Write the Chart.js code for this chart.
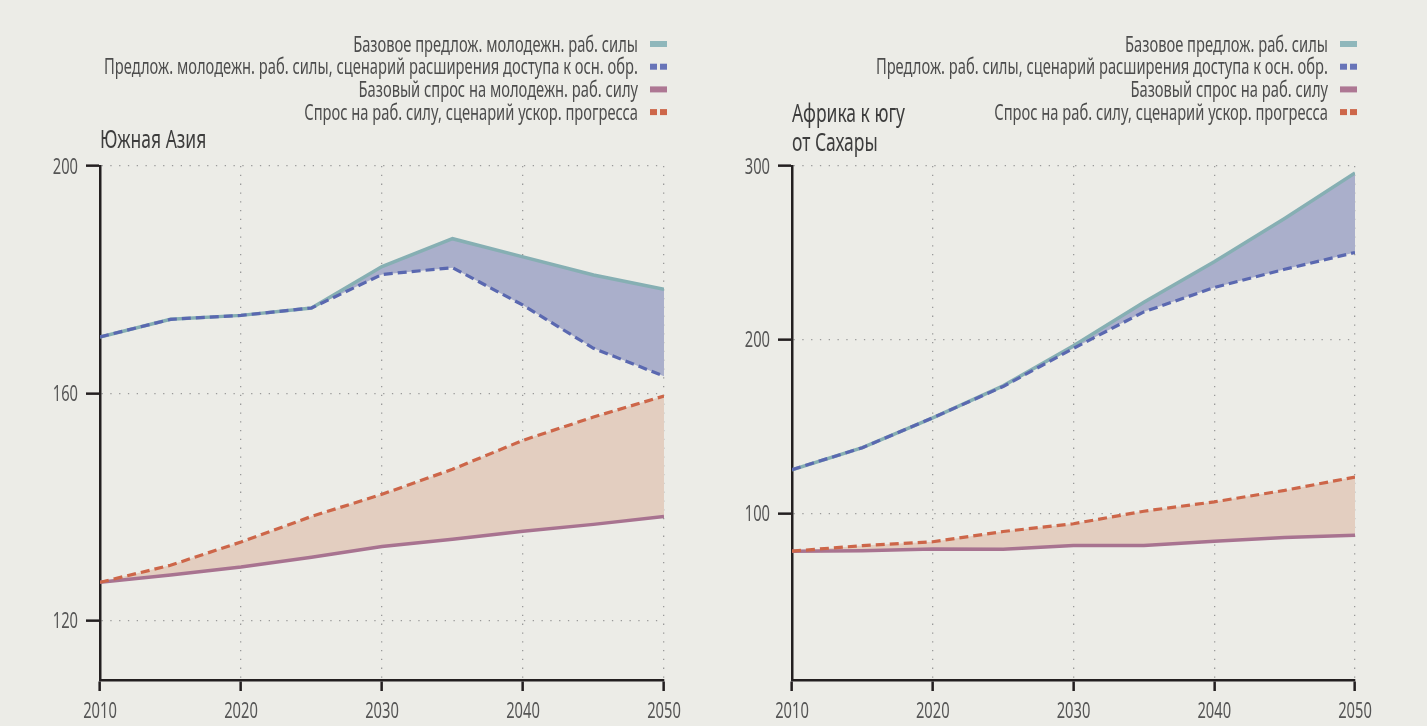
<!DOCTYPE html>
<html>
<head>
<meta charset="utf-8">
<script src="https://cdn.jsdelivr.net/npm/chart.js@4"></script>
<style>
html, body { margin: 0; padding: 0; background: #ecece7; }
#wrap { position: relative; width: 1427px; height: 726px; background: #ecece7; }
canvas { position: absolute; top: 0; }
</style>
</head>
<body>
<div id="wrap">
  <canvas id="left" width="713" height="726" style="left:0"></canvas>
  <canvas id="right" width="714" height="726" style="left:713px"></canvas>
</div>
<script>
// years on the x axis
const years = [2010, 2015, 2020, 2025, 2030, 2035, 2040, 2045, 2050];
const yearTicks = [2010, 2020, 2030, 2040, 2050];

// South Asia (youth labour)
const saSupplyBase = [169.9, 173.0, 173.7, 175.0, 182.3, 187.2, 184.0, 180.8, 178.3];
const saSupplyEdu  = [169.9, 173.0, 173.7, 175.0, 180.9, 182.1, 175.5, 167.9, 163.0];
const saDemandBase = [126.7, 128.0, 129.4, 131.1, 133.0, 134.3, 135.7, 136.9, 138.3];
const saDemandFast = [126.7, 129.7, 133.8, 138.3, 142.2, 146.6, 151.7, 155.8, 159.5];
const saTicks = [120, 160, 200];

// Sub-Saharan Africa
const afSupplyBase = [125.1, 137.8, 155.0, 173.4, 196.5, 221.5, 244.8, 269.8, 296.0];
const afSupplyEdu  = [125.1, 137.8, 155.0, 173.0, 195.0, 216.0, 230.0, 240.5, 250.2];
const afDemandBase = [78.2, 78.5, 79.5, 79.3, 81.4, 81.5, 83.9, 86.0, 87.4];
const afDemandFast = [78.2, 81.4, 83.6, 89.5, 94.0, 101.2, 106.6, 113.2, 120.9];
const afTicks = [100, 200, 300];

const saLabels = [
  'Базовое предлож. молодежн. раб. силы',
  'Предлож. молодежн. раб. силы, сценарий расширения доступа к осн. обр.',
  'Базовый спрос на молодежн. раб. силу',
  'Спрос на раб. силу, сценарий ускор. прогресса'
];
const afLabels = [
  'Базовое предлож. раб. силы',
  'Предлож. раб. силы, сценарий расширения доступа к осн. обр.',
  'Базовый спрос на раб. силу',
  'Спрос на раб. силу, сценарий ускор. прогресса'
];
const saTitle = ['Южная Азия'];
const afTitle = ['Африка к югу', 'от Сахары'];

const FONT = '"Noto Sans", "DejaVu Sans", sans-serif';
const SX = 0.7; // squeeze text to look like a condensed face
const swatchColors = ['#8fb7bb', '#6874b8', '#ad7793', '#cd6649'];
const swatchDashed = [false, true, false, true];

Chart.defaults.font.family = FONT;

function sText(ctx, t, x, y, align) {
  ctx.save();
  ctx.translate(x, y);
  ctx.scale(SX, 1);
  ctx.textAlign = align;
  ctx.fillText(t, 0, 0);
  ctx.restore();
}

// titles, legend and tick labels, drawn on the canvas
const decor = {
  id: 'decor',
  afterDraw(chart, args, o) {
    const ctx = chart.ctx;
    const area = chart.chartArea;
    ctx.save();
    ctx.textBaseline = 'alphabetic';

    ctx.fillStyle = '#3d3d3d';
    ctx.font = '25px ' + FONT;
    o.title.forEach((t, i) => sText(ctx, t, o.titleX, o.titleY + i * 29, 'left'));

    ctx.font = '21px ' + FONT;
    o.labels.forEach((t, i) => {
      const y = o.legendY + i * 22.7;
      ctx.fillStyle = '#4d4d4d';
      sText(ctx, t, o.legendX - 29, y + 7.5, 'right');
      ctx.fillStyle = swatchColors[i];
      if (swatchDashed[i]) {
        ctx.fillRect(o.legendX - 17, y - 3, 7, 6);
        ctx.fillRect(o.legendX - 7, y - 3, 7, 6);
      } else {
        ctx.fillRect(o.legendX - 17, y - 3, 17, 6);
      }
    });

    ctx.fillStyle = '#555555';
    ctx.font = '21px ' + FONT;
    const ys = chart.scales.y;
    ys.ticks.forEach(t => sText(ctx, t.label, area.left - 22, ys.getPixelForValue(t.value) + 7.5, 'right'));
    const xs = chart.scales.x;
    xs.ticks.forEach(t => sText(ctx, t.label, xs.getPixelForValue(t.value), area.bottom + 38, 'center'));
    ctx.restore();
  }
};

function axis(tickVals, min, max, size, isY) {
  return {
    type: 'linear',
    min: min,
    max: max,
    afterBuildTicks: s => { s.ticks = tickVals.map(v => ({ value: v })); },
    afterFit: s => { if (isY) s.width = size; else s.height = size; },
    grid: {
      color: '#9a9a9a',
      lineWidth: 1.3,
      drawTicks: true,
      tickColor: '#231f20',
      tickWidth: 2.5,
      tickLength: isY ? 14 : 11
    },
    border: { display: true, color: '#231f20', width: 2.5, dash: [1.3, 7.5] },
    ticks: {
      display: false,
      autoSkip: false,
      callback: v => String(v)
    }
  };
}

function series(vals) {
  return vals.map((v, i) => ({ x: years[i], y: v }));
}

function makeChart(id, d) {
  return new Chart(document.getElementById(id), {
    type: 'line',
    data: {
      datasets: [
        { label: d.labels[0], data: series(d.supplyBase), borderColor: '#86afb3', borderWidth: 3.5, fill: false, order: 2 },
        { label: d.labels[1], data: series(d.supplyEdu), borderColor: '#5a68b0', borderWidth: 3.2, borderDash: [9, 5], order: 1,
          fill: { target: 0, above: 'rgba(170,175,203,1)', below: 'rgba(170,175,203,1)' } },
        { label: d.labels[2], data: series(d.demandBase), borderColor: '#a87390', borderWidth: 3.5, fill: false, order: 2 },
        { label: d.labels[3], data: series(d.demandFast), borderColor: '#cd6649', borderWidth: 3.2, borderDash: [9, 5], order: 1,
          fill: { target: 2, above: 'rgba(227,206,192,1)', below: 'rgba(227,206,192,1)' } }
      ]
    },
    options: {
      responsive: false,
      animation: false,
      elements: { point: { radius: 0 }, line: { tension: 0 } },
      layout: { padding: { left: 0, top: 166, right: d.padRight, bottom: 0 } },
      scales: {
        x: axis(yearTicks, 2010, 2050, 46, false),
        y: axis(d.ticks, d.min, d.max, d.yWidth, true)
      },
      plugins: {
        legend: { display: false },
        tooltip: { enabled: false },
        filler: { drawTime: 'beforeDatasetsDraw' },
        decor: {
          title: d.title, titleX: d.yWidth, titleY: d.titleY,
          labels: d.labels, legendX: d.legendX, legendY: 44
        }
      }
    },
    plugins: [decor]
  });
}

makeChart('left', {
  supplyBase: saSupplyBase, supplyEdu: saSupplyEdu,
  demandBase: saDemandBase, demandFast: saDemandFast,
  ticks: saTicks, min: 109.5, max: 200,
  labels: saLabels, title: saTitle, titleY: 148,
  yWidth: 100, padRight: 49, legendX: 667
});

makeChart('right', {
  supplyBase: afSupplyBase, supplyEdu: afSupplyEdu,
  demandBase: afDemandBase, demandFast: afDemandFast,
  ticks: afTicks, min: 4, max: 300,
  labels: afLabels, title: afTitle, titleY: 122,
  yWidth: 79, padRight: 72, legendX: 644
});
</script>
</body>
</html>
